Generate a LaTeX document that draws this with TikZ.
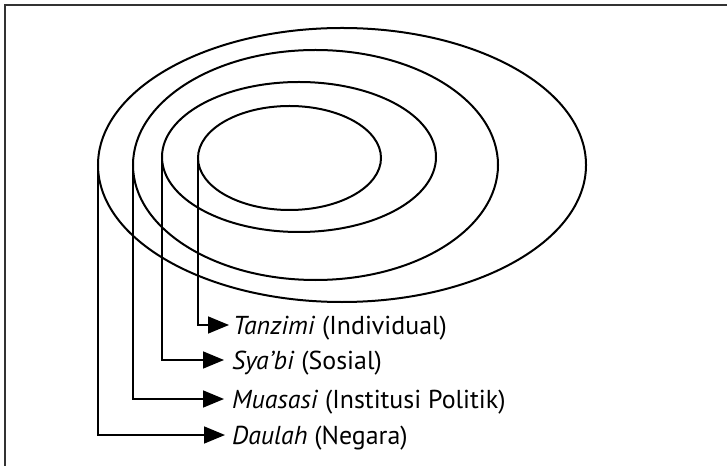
\documentclass[tikz,border=0pt]{standalone}
\usepackage{fontspec}
\setmainfont{PT Sans}
\usetikzlibrary{arrows.meta,shapes.geometric}
\begin{document}
\begin{tikzpicture}[x=1bp,y=-1bp,
  ring/.style={draw=black,line width=2bp,ellipse,inner sep=0pt,outer sep=0pt},
  lead/.style={draw=black,line width=1.6bp,-{Triangle[length=21bp,width=17bp]}},
  lbl/.style={anchor=base west,inner sep=0pt,font=\fontsize{26}{30}\selectfont}]
\useasboundingbox (0,0) rectangle (727,466);
\fill[white] (0,0) rectangle (727,466);
\draw[draw=black!80,line width=1.5bp] (5,466) -- (5,5) -- (727,5);
% rings
\node[ring,minimum width=488bp,minimum height=274bp] (e1) at (342,165) {};
\node[ring,minimum width=365bp,minimum height=230bp] (e2) at (315.5,165) {};
\node[ring,minimum width=274bp,minimum height=150bp] (e3) at (299,157) {};
\node[ring,minimum width=183bp,minimum height=104bp] (e4) at (289.5,158) {};
% labels
\node[lbl] (t4) at (233,335) {\textit{Tanzimi} (Individual)};
\node[lbl] (t3) at (232,369) {\textit{Sya’bi} (Sosial)};
\node[lbl] (t2) at (232,408) {\textit{Muasasi} (Institusi Politik)};
\node[lbl] (t1) at (232,444) {\textit{Daulah} (Negara)};
% leaders
\draw[lead] (e4.west) |- ([xshift=-4bp,yshift=10bp]t4.base west);
\draw[lead] (e3.west) |- ([xshift=-8bp,yshift=9bp]t3.base west);
\draw[lead] (e2.west) |- ([xshift=-8bp,yshift=9bp]t2.base west);
\draw[lead] (e1.west) |- ([xshift=-7bp,yshift=9bp]t1.base west);
\end{tikzpicture}
\end{document}
